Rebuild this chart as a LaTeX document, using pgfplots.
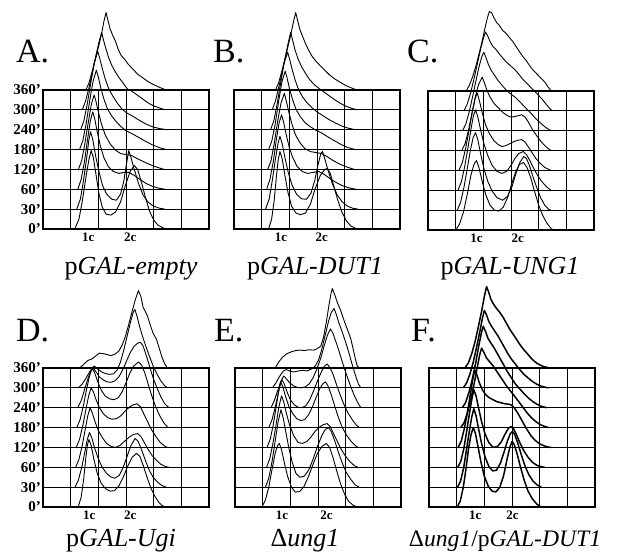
\documentclass[border=0pt]{standalone}
\usepackage{pgfplots}
\pgfplotsset{compat=1.18}
\usepackage{fontspec}
\setmainfont{Liberation Serif}
\pgfplotsset{
  flow/.style={width=166pt,height=139pt,scale only axis,xmin=0,xmax=6,ymin=0,ymax=7,
    xtick={0,...,6},ytick={0,...,7},xticklabels={},yticklabels={},
    grid=major,major grid style={black,line width=0.9pt},
    axis line style={black,line width=1.4pt},major tick length=0pt,
    clip=false,anchor=north west,
    cycle list={{black,solid}},
    extra x tick style={grid=none,major tick length=0pt,
      tick label style={font=\fontsize{13}{13}\selectfont\bfseries}},
    every axis plot post/.append style={black,solid,line width=0.9pt,mark=none,line join=round}},
  ylab/.style={yticklabels={\textbf{0'},\textbf{30'},\textbf{60'},\textbf{120'},\textbf{180'},\textbf{240'},\textbf{300'},\textbf{360'}},
    yticklabel style={font=\fontsize{15}{15}\selectfont\bfseries,xshift=1.5pt}}
}
\begin{document}
\begin{tikzpicture}
\path[use as bounding box] (0pt,0pt) rectangle (617pt,-553pt);
% ---------------- A
\begin{axis}[flow,ylab,at={(43pt,-90pt)},extra x ticks={1.64,3.15},extra x tick labels={1c,2c}]
\addplot coordinates {(1.15,0)(1.30,0.5)(1.42,1.4)(1.55,2.6)(1.66,3.5)(1.74,3.95)(1.82,3.6)(1.92,2.7)(2.02,1.8)(2.14,1.1)(2.28,0.75)(2.45,0.7)(2.62,0.85)(2.80,1.35)(2.98,2.2)(3.15,2.9)(3.30,3.2)(3.42,3.0)(3.55,2.4)(3.70,1.6)(3.85,0.9)(4.00,0.45)(4.15,0.2)(4.35,0.05)(4.50,0)};
\addplot coordinates {(1.22,1.0)(1.35,1.5)(1.47,2.5)(1.58,3.6)(1.66,4.5)(1.72,4.9)(1.80,4.5)(1.90,3.7)(2.02,2.9)(2.15,2.2)(2.30,1.75)(2.48,1.5)(2.65,1.45)(2.80,1.75)(2.92,2.4)(3.02,3.3)(3.10,3.95)(3.18,3.6)(3.30,3.0)(3.45,2.3)(3.62,1.7)(3.80,1.35)(4.00,1.15)(4.20,1.05)(4.40,1.0)};
\addplot coordinates {(1.26,2.0)(1.38,2.5)(1.50,3.4)(1.61,4.5)(1.71,5.45)(1.80,5.9)(1.87,5.55)(1.96,4.9)(2.07,4.2)(2.20,3.6)(2.36,3.15)(2.54,2.9)(2.74,2.8)(2.92,2.85)(3.10,2.85)(3.30,2.7)(3.50,2.5)(3.72,2.3)(3.95,2.15)(4.20,2.05)(4.42,2.0)};
\addplot coordinates {(1.28,3.0)(1.40,3.45)(1.52,4.35)(1.64,5.4)(1.75,6.3)(1.85,6.75)(1.92,6.4)(2.01,5.85)(2.12,5.25)(2.26,4.7)(2.42,4.3)(2.60,4.0)(2.80,3.8)(3.00,3.75)(3.20,3.7)(3.40,3.55)(3.62,3.4)(3.85,3.25)(4.10,3.12)(4.38,3.0)};
\addplot coordinates {(1.32,4.0)(1.44,4.45)(1.56,5.3)(1.68,6.4)(1.81,7.45)(1.93,8.0)(2.00,7.65)(2.09,7.1)(2.20,6.55)(2.33,6.05)(2.48,5.7)(2.65,5.4)(2.82,5.15)(3.00,4.95)(3.22,4.8)(3.45,4.62)(3.70,4.42)(3.95,4.24)(4.20,4.1)(4.45,4.0)};
\addplot coordinates {(1.36,5.0)(1.48,5.45)(1.60,6.3)(1.72,7.3)(1.85,8.35)(1.98,8.95)(2.05,8.6)(2.14,8.1)(2.25,7.55)(2.38,7.05)(2.52,6.7)(2.68,6.35)(2.85,6.05)(3.02,5.85)(3.22,5.7)(3.45,5.5)(3.70,5.3)(3.95,5.15)(4.20,5.06)(4.48,5.0)};
\addplot coordinates {(1.42,6.0)(1.54,6.45)(1.66,7.1)(1.78,7.85)(1.90,8.65)(2.02,9.4)(2.12,9.9)(2.19,9.5)(2.28,9.05)(2.38,8.6)(2.50,8.2)(2.62,7.9)(2.76,7.6)(2.92,7.3)(3.05,7.05)(3.20,6.95)(3.40,6.75)(3.60,6.55)(3.80,6.35)(4.00,6.2)(4.20,6.1)(4.42,6.0)};
\addplot coordinates {(1.55,7.0)(1.66,7.35)(1.78,7.95)(1.90,8.6)(2.02,9.25)(2.12,9.85)(2.20,10.45)(2.28,10.9)(2.34,10.55)(2.42,10.1)(2.52,9.75)(2.62,9.45)(2.72,9.05)(2.82,8.75)(2.95,8.55)(3.08,8.3)(3.25,8.05)(3.42,7.8)(3.60,7.62)(3.80,7.42)(4.00,7.27)(4.20,7.14)(4.45,7.0)};
\end{axis}
% ---------------- B
\begin{axis}[flow,at={(234pt,-90pt)},extra x ticks={1.70,3.17},extra x tick labels={1c,2c}]
\addplot coordinates {(1.25,0)(1.36,0.5)(1.45,1.4)(1.53,2.6)(1.60,3.5)(1.66,3.9)(1.74,3.55)(1.84,2.7)(1.95,1.85)(2.08,1.15)(2.24,0.8)(2.40,0.72)(2.58,0.8)(2.76,1.25)(2.94,2.05)(3.12,2.7)(3.28,3.0)(3.38,3.05)(3.48,2.8)(3.60,2.2)(3.74,1.5)(3.90,0.85)(4.06,0.42)(4.22,0.15)(4.44,0)};
\addplot coordinates {(1.14,1.0)(1.27,1.5)(1.39,2.5)(1.50,3.55)(1.59,4.3)(1.66,4.67)(1.74,4.3)(1.84,3.6)(1.96,2.85)(2.10,2.2)(2.26,1.75)(2.44,1.52)(2.62,1.5)(2.78,1.8)(2.92,2.45)(3.04,3.25)(3.14,3.8)(3.20,3.9)(3.28,3.55)(3.40,2.95)(3.55,2.3)(3.72,1.75)(3.90,1.38)(4.10,1.15)(4.30,1.04)(4.48,1.0)};
\addplot coordinates {(1.18,2.0)(1.30,2.5)(1.42,3.4)(1.53,4.5)(1.63,5.35)(1.72,5.75)(1.79,5.4)(1.88,4.8)(1.99,4.15)(2.12,3.6)(2.28,3.15)(2.46,2.9)(2.66,2.8)(2.86,2.85)(3.06,2.9)(3.26,2.75)(3.46,2.55)(3.68,2.35)(3.92,2.18)(4.18,2.06)(4.42,2.0)};
\addplot coordinates {(1.22,3.0)(1.34,3.45)(1.46,4.35)(1.58,5.45)(1.70,6.35)(1.82,6.83)(1.89,6.45)(1.98,5.9)(2.09,5.3)(2.22,4.75)(2.38,4.35)(2.56,4.05)(2.76,3.9)(2.96,3.85)(3.16,3.8)(3.36,3.65)(3.58,3.45)(3.82,3.27)(4.08,3.12)(4.35,3.0)};
\addplot coordinates {(1.25,4.0)(1.37,4.45)(1.49,5.3)(1.61,6.4)(1.73,7.4)(1.85,7.95)(1.92,7.6)(2.01,7.05)(2.12,6.5)(2.25,6.0)(2.40,5.65)(2.57,5.35)(2.76,5.15)(2.95,4.98)(3.15,4.85)(3.38,4.65)(3.62,4.45)(3.88,4.25)(4.12,4.1)(4.38,4.0)};
\addplot coordinates {(1.32,5.0)(1.44,5.45)(1.56,6.3)(1.68,7.3)(1.81,8.35)(1.94,8.9)(2.01,8.55)(2.10,8.05)(2.21,7.5)(2.34,7.0)(2.48,6.65)(2.64,6.35)(2.82,6.1)(3.00,5.9)(3.20,5.72)(3.42,5.52)(3.65,5.35)(3.90,5.18)(4.15,5.07)(4.40,5.0)};
\addplot coordinates {(1.38,6.0)(1.50,6.45)(1.62,7.15)(1.74,7.9)(1.86,8.7)(1.97,9.45)(2.05,9.9)(2.12,9.5)(2.21,9.0)(2.32,8.55)(2.45,8.15)(2.58,7.85)(2.72,7.55)(2.88,7.3)(3.05,7.1)(3.25,6.9)(3.45,6.7)(3.65,6.5)(3.85,6.32)(4.05,6.18)(4.25,6.08)(4.45,6.0)};
\addplot coordinates {(1.50,7.0)(1.61,7.35)(1.73,7.95)(1.85,8.6)(1.97,9.3)(2.07,9.9)(2.16,10.5)(2.23,10.9)(2.30,10.5)(2.38,10.05)(2.48,9.7)(2.58,9.35)(2.70,9.0)(2.82,8.7)(2.96,8.45)(3.10,8.25)(3.28,8.0)(3.46,7.75)(3.65,7.55)(3.85,7.38)(4.05,7.22)(4.25,7.1)(4.44,7.0)};
\end{axis}
% ---------------- C
\begin{axis}[flow,at={(428pt,-91pt)},extra x ticks={1.75,3.24},extra x tick labels={1c,2c}]
\addplot coordinates {(1.00,0.0)(1.14,0.3)(1.28,0.9)(1.42,1.8)(1.55,2.75)(1.66,3.3)(1.75,3.5)(1.84,3.15)(1.95,2.5)(2.08,1.8)(2.24,1.25)(2.40,1.0)(2.56,0.95)(2.72,1.15)(2.88,1.65)(3.02,2.3)(3.16,2.9)(3.30,3.3)(3.45,3.4)(3.58,3.15)(3.72,2.6)(3.86,1.9)(4.00,1.25)(4.14,0.75)(4.28,0.38)(4.42,0.12)(4.52,0.0)};
\addplot coordinates {(1.06,1.0)(1.18,1.4)(1.30,2.15)(1.42,3.1)(1.53,4.0)(1.63,4.65)(1.72,4.9)(1.80,4.55)(1.90,3.85)(2.02,3.1)(2.16,2.45)(2.32,1.95)(2.50,1.62)(2.70,1.5)(2.88,1.7)(3.04,2.2)(3.18,2.85)(3.32,3.4)(3.46,3.7)(3.56,3.6)(3.68,3.2)(3.80,2.65)(3.94,2.1)(4.08,1.6)(4.22,1.25)(4.36,1.04)(4.44,1.0)};
\addplot coordinates {(1.08,2.0)(1.20,2.4)(1.32,3.15)(1.44,4.1)(1.55,5.05)(1.64,5.75)(1.72,6.05)(1.80,5.7)(1.90,5.05)(2.02,4.35)(2.16,3.75)(2.32,3.25)(2.50,2.95)(2.67,2.85)(2.84,2.95)(3.00,3.25)(3.14,3.6)(3.28,3.85)(3.44,3.95)(3.56,3.8)(3.70,3.45)(3.84,3.05)(3.98,2.7)(4.14,2.4)(4.30,2.15)(4.45,2.0)};
\addplot coordinates {(1.12,3.0)(1.24,3.4)(1.36,4.1)(1.48,5.0)(1.60,5.95)(1.70,6.6)(1.78,6.9)(1.86,6.5)(1.96,5.9)(2.08,5.3)(2.22,4.85)(2.38,4.5)(2.54,4.3)(2.68,4.2)(2.82,4.25)(2.96,4.35)(3.10,4.45)(3.24,4.52)(3.38,4.55)(3.50,4.45)(3.62,4.2)(3.76,3.9)(3.90,3.6)(4.06,3.35)(4.22,3.15)(4.36,3.05)(4.46,3.0)};
\addplot coordinates {(1.22,4.0)(1.34,4.35)(1.46,5.0)(1.58,5.8)(1.70,6.65)(1.82,7.3)(1.96,7.7)(2.04,7.4)(2.14,7.0)(2.26,6.65)(2.40,6.35)(2.54,6.15)(2.68,5.95)(2.82,5.8)(2.96,5.7)(3.10,5.7)(3.24,5.75)(3.38,5.8)(3.50,5.7)(3.62,5.45)(3.76,5.1)(3.90,4.8)(4.06,4.5)(4.22,4.25)(4.36,4.08)(4.46,4.0)};
\addplot coordinates {(1.25,5.0)(1.37,5.35)(1.49,5.95)(1.61,6.7)(1.73,7.5)(1.85,8.25)(1.95,8.75)(2.02,8.95)(2.09,8.7)(2.18,8.35)(2.28,8.05)(2.40,7.8)(2.52,7.55)(2.64,7.35)(2.76,7.15)(2.90,6.95)(3.04,6.8)(3.18,6.65)(3.32,6.45)(3.46,6.25)(3.60,6.05)(3.74,5.85)(3.90,5.6)(4.06,5.4)(4.22,5.2)(4.38,5.05)(4.48,5.0)};
\addplot coordinates {(1.30,6.0)(1.42,6.35)(1.54,6.9)(1.66,7.6)(1.78,8.35)(1.90,9.1)(2.00,9.65)(2.08,9.97)(2.15,9.8)(2.24,9.5)(2.34,9.25)(2.45,9.1)(2.56,8.9)(2.68,8.7)(2.80,8.5)(2.92,8.35)(3.04,8.2)(3.16,8.05)(3.28,7.85)(3.42,7.6)(3.56,7.4)(3.70,7.2)(3.84,7.0)(3.98,6.8)(4.12,6.6)(4.26,6.35)(4.38,6.15)(4.50,6.0)};
\addplot coordinates {(1.38,7.0)(1.50,7.3)(1.62,7.75)(1.74,8.3)(1.86,8.95)(1.98,9.65)(2.08,10.3)(2.16,10.75)(2.22,11.0)(2.30,10.95)(2.38,10.7)(2.48,10.45)(2.58,10.3)(2.70,10.05)(2.82,9.9)(2.94,9.7)(3.06,9.5)(3.18,9.25)(3.30,9.0)(3.42,8.75)(3.54,8.55)(3.66,8.3)(3.80,8.05)(3.94,7.85)(4.08,7.65)(4.22,7.45)(4.34,7.2)(4.46,7.0)};
\end{axis}
% ---------------- D
\begin{axis}[flow,ylab,at={(43pt,-368pt)},extra x ticks={1.67,3.15},extra x tick labels={1c,2c}]
\addplot coordinates {(1.27,0.0)(1.38,0.5)(1.47,1.4)(1.55,2.5)(1.61,3.15)(1.66,3.4)(1.74,3.1)(1.84,2.4)(1.96,1.7)(2.10,1.2)(2.26,0.92)(2.42,0.8)(2.58,0.82)(2.74,1.05)(2.90,1.5)(3.06,2.05)(3.22,2.5)(3.38,2.7)(3.50,2.55)(3.62,2.1)(3.76,1.5)(3.90,0.95)(4.04,0.55)(4.18,0.25)(4.30,0.08)(4.42,0.0)};
\addplot coordinates {(1.16,1.0)(1.28,1.35)(1.40,2.0)(1.51,2.75)(1.60,3.4)(1.68,3.75)(1.76,3.5)(1.86,3.0)(1.98,2.5)(2.12,2.05)(2.28,1.72)(2.44,1.52)(2.60,1.45)(2.76,1.6)(2.90,2.0)(3.04,2.55)(3.18,3.1)(3.33,3.45)(3.44,3.3)(3.56,2.9)(3.70,2.35)(3.84,1.85)(3.98,1.5)(4.14,1.25)(4.30,1.08)(4.45,1.0)};
\addplot coordinates {(1.18,2.0)(1.30,2.4)(1.42,3.1)(1.53,3.95)(1.62,4.6)(1.70,5.0)(1.78,4.75)(1.88,4.3)(2.00,3.85)(2.14,3.5)(2.30,3.2)(2.46,3.05)(2.62,3.0)(2.78,3.1)(2.94,3.3)(3.10,3.5)(3.26,3.65)(3.42,3.7)(3.54,3.55)(3.66,3.25)(3.80,2.9)(3.94,2.6)(4.10,2.35)(4.26,2.15)(4.42,2.04)(4.55,2.0)};
\addplot coordinates {(1.20,3.0)(1.32,3.4)(1.44,4.1)(1.55,4.9)(1.65,5.6)(1.74,6.0)(1.82,5.8)(1.92,5.4)(2.04,5.0)(2.18,4.7)(2.34,4.5)(2.50,4.42)(2.66,4.45)(2.82,4.6)(2.98,4.85)(3.14,5.05)(3.28,5.15)(3.40,5.2)(3.52,5.05)(3.64,4.7)(3.78,4.3)(3.92,3.9)(4.08,3.55)(4.24,3.25)(4.38,3.08)(4.50,3.0)};
\addplot coordinates {(1.22,4.0)(1.34,4.4)(1.46,5.1)(1.57,5.9)(1.68,6.6)(1.78,7.0)(1.87,6.75)(1.98,6.3)(2.10,5.9)(2.24,5.6)(2.40,5.45)(2.56,5.4)(2.72,5.5)(2.86,5.8)(3.00,6.25)(3.14,6.75)(3.28,7.1)(3.45,7.3)(3.56,7.15)(3.68,6.75)(3.80,6.2)(3.92,5.65)(4.06,5.1)(4.20,4.65)(4.36,4.25)(4.52,4.0)};
\addplot coordinates {(1.25,5.0)(1.38,5.35)(1.50,5.9)(1.62,6.45)(1.73,6.85)(1.82,7.0)(1.92,6.8)(2.04,6.55)(2.18,6.4)(2.32,6.3)(2.46,6.28)(2.60,6.35)(2.74,6.55)(2.88,6.9)(3.02,7.35)(3.16,7.8)(3.30,8.1)(3.42,8.25)(3.52,8.3)(3.62,8.1)(3.74,7.6)(3.86,7.05)(3.98,6.5)(4.12,6.0)(4.26,5.55)(4.40,5.2)(4.55,5.0)};
\addplot coordinates {(1.28,6.0)(1.42,6.2)(1.56,6.5)(1.70,6.85)(1.85,7.1)(1.98,6.95)(2.12,6.8)(2.26,6.72)(2.40,6.68)(2.54,6.7)(2.68,6.9)(2.80,7.3)(2.92,7.9)(3.04,8.6)(3.16,9.3)(3.26,9.8)(3.32,9.95)(3.40,9.6)(3.50,9.05)(3.62,8.5)(3.74,8.0)(3.86,7.55)(3.98,7.1)(4.12,6.7)(4.26,6.35)(4.40,6.1)(4.52,6.0)};
\addplot coordinates {(1.33,7.0)(1.48,7.2)(1.62,7.38)(1.76,7.45)(1.90,7.6)(2.04,7.75)(2.18,7.72)(2.32,7.68)(2.46,7.62)(2.60,7.7)(2.74,7.85)(2.86,8.15)(2.98,8.6)(3.10,9.2)(3.22,9.85)(3.34,10.45)(3.45,10.9)(3.54,10.6)(3.62,10.05)(3.70,9.85)(3.78,9.6)(3.88,9.15)(3.98,8.75)(4.10,8.45)(4.20,8.0)(4.30,7.55)(4.40,7.2)(4.50,7.0)};
\end{axis}
% ---------------- E
\begin{axis}[flow,at={(235pt,-368pt)},extra x ticks={1.70,3.31},extra x tick labels={1c,2c}]
\addplot coordinates {(0.97,0.0)(1.10,0.35)(1.22,1.0)(1.34,1.9)(1.45,2.7)(1.54,3.1)(1.60,3.2)(1.68,2.9)(1.78,2.25)(1.90,1.55)(2.04,1.0)(2.18,0.75)(2.34,0.78)(2.50,1.05)(2.66,1.55)(2.82,2.15)(2.98,2.7)(3.14,3.05)(3.30,3.2)(3.42,3.0)(3.54,2.5)(3.68,1.8)(3.82,1.15)(3.96,0.65)(4.10,0.3)(4.26,0.1)(4.42,0.0)};
\addplot coordinates {(1.10,1.0)(1.22,1.45)(1.34,2.3)(1.45,3.3)(1.56,4.3)(1.66,4.9)(1.74,4.5)(1.84,3.75)(1.95,2.95)(2.07,2.25)(2.20,1.7)(2.34,1.5)(2.50,1.55)(2.66,1.85)(2.82,2.4)(2.98,3.05)(3.14,3.6)(3.26,3.9)(3.38,4.0)(3.48,3.8)(3.60,3.35)(3.74,2.75)(3.88,2.2)(4.02,1.75)(4.18,1.4)(4.34,1.12)(4.48,1.0)};
\addplot coordinates {(1.14,2.0)(1.26,2.45)(1.37,3.2)(1.48,4.1)(1.58,5.0)(1.68,5.6)(1.76,5.3)(1.86,4.7)(1.98,4.1)(2.12,3.6)(2.28,3.25)(2.44,3.2)(2.60,3.3)(2.76,3.55)(2.92,3.85)(3.08,4.05)(3.20,4.15)(3.33,4.2)(3.44,4.05)(3.56,3.7)(3.70,3.3)(3.84,2.9)(4.00,2.55)(4.16,2.27)(4.32,2.08)(4.45,2.0)};
\addplot coordinates {(1.16,3.0)(1.28,3.45)(1.39,4.2)(1.49,5.05)(1.57,5.8)(1.65,6.3)(1.73,6.05)(1.83,5.55)(1.95,5.05)(2.09,4.7)(2.23,4.45)(2.38,4.35)(2.52,4.4)(2.66,4.65)(2.80,5.05)(2.94,5.55)(3.06,5.95)(3.17,6.2)(3.27,6.3)(3.36,6.1)(3.48,5.65)(3.60,5.1)(3.74,4.5)(3.88,4.0)(4.04,3.6)(4.20,3.3)(4.34,3.1)(4.45,3.0)};
\addplot coordinates {(1.22,4.0)(1.34,4.4)(1.46,5.05)(1.56,5.7)(1.64,6.2)(1.70,6.4)(1.78,6.2)(1.88,5.8)(2.00,5.4)(2.14,5.15)(2.28,5.02)(2.42,5.0)(2.56,5.1)(2.70,5.4)(2.84,5.85)(2.98,6.35)(3.12,6.8)(3.24,7.1)(3.33,7.2)(3.42,7.05)(3.54,6.7)(3.66,6.2)(3.80,5.65)(3.94,5.15)(4.10,4.7)(4.26,4.35)(4.40,4.1)(4.50,4.0)};
\addplot coordinates {(1.30,5.0)(1.42,5.35)(1.54,5.85)(1.65,6.3)(1.76,6.6)(1.86,6.45)(1.98,6.25)(2.12,6.1)(2.26,6.02)(2.40,6.0)(2.54,6.05)(2.68,6.2)(2.82,6.5)(2.96,6.95)(3.10,7.5)(3.22,8.1)(3.34,8.65)(3.45,8.97)(3.54,8.75)(3.64,8.35)(3.76,7.85)(3.88,7.3)(4.02,6.7)(4.16,6.15)(4.30,5.65)(4.44,5.25)(4.55,5.0)};
\addplot coordinates {(1.35,6.0)(1.48,6.25)(1.62,6.6)(1.75,6.85)(1.85,6.92)(1.98,6.85)(2.12,6.8)(2.28,6.85)(2.44,6.88)(2.60,6.85)(2.76,6.95)(2.90,7.1)(3.02,7.4)(3.14,7.95)(3.26,8.65)(3.38,9.35)(3.48,9.8)(3.58,10.0)(3.66,9.7)(3.76,9.25)(3.88,8.8)(4.00,8.3)(4.12,7.75)(4.24,7.15)(4.36,6.6)(4.46,6.2)(4.55,6.0)};
\addplot coordinates {(1.45,7.0)(1.58,7.3)(1.72,7.55)(1.88,7.72)(2.04,7.82)(2.20,7.88)(2.36,7.9)(2.52,7.88)(2.68,7.92)(2.85,7.9)(2.98,7.98)(3.10,8.1)(3.20,8.55)(3.30,9.3)(3.40,10.2)(3.47,10.75)(3.52,11.0)(3.60,10.7)(3.70,10.3)(3.82,9.9)(3.94,9.4)(4.06,8.95)(4.18,8.5)(4.28,7.9)(4.36,7.4)(4.42,7.1)(4.50,7.0)};
\end{axis}
% ---------------- F
\begin{axis}[flow,at={(429pt,-368pt)},extra x ticks={1.67,3.02},extra x tick labels={1c,2c},every axis plot post/.append style={line width=1.5pt}]
\addplot coordinates {(1.02,0.0)(1.13,0.3)(1.24,1.0)(1.34,1.95)(1.43,2.95)(1.52,3.65)(1.60,4.0)(1.68,3.7)(1.77,3.05)(1.88,2.25)(2.00,1.55)(2.14,1.05)(2.28,0.8)(2.42,0.76)(2.56,1.0)(2.70,1.6)(2.82,2.4)(2.92,3.0)(3.00,3.3)(3.08,3.15)(3.18,2.7)(3.30,2.05)(3.44,1.35)(3.58,0.8)(3.74,0.4)(3.90,0.14)(4.05,0.0)};
\addplot coordinates {(1.03,1.0)(1.14,1.3)(1.25,1.95)(1.35,2.85)(1.45,3.75)(1.54,4.5)(1.62,4.95)(1.70,4.6)(1.79,3.95)(1.90,3.2)(2.02,2.55)(2.16,2.05)(2.30,1.82)(2.44,1.85)(2.58,2.2)(2.72,2.8)(2.84,3.35)(2.94,3.7)(3.02,3.8)(3.10,3.65)(3.20,3.25)(3.32,2.7)(3.46,2.1)(3.60,1.65)(3.76,1.3)(3.92,1.1)(4.06,1.0)};
\addplot coordinates {(1.04,2.0)(1.15,2.3)(1.26,2.95)(1.36,3.8)(1.46,4.7)(1.55,5.45)(1.62,5.9)(1.70,5.6)(1.79,5.0)(1.90,4.3)(2.02,3.7)(2.16,3.25)(2.32,3.0)(2.48,3.05)(2.62,3.3)(2.76,3.7)(2.88,3.98)(2.96,4.05)(3.05,3.95)(3.16,3.65)(3.28,3.25)(3.42,2.85)(3.58,2.5)(3.74,2.25)(3.90,2.1)(4.05,2.03)(4.18,2.0)};
\addplot coordinates {(1.05,3.0)(1.16,3.3)(1.27,3.9)(1.38,4.7)(1.48,5.55)(1.57,6.35)(1.65,6.9)(1.73,6.65)(1.82,6.25)(1.93,5.9)(2.05,5.65)(2.18,5.5)(2.32,5.4)(2.46,5.3)(2.60,5.25)(2.74,5.2)(2.86,5.18)(2.96,5.15)(3.08,5.0)(3.22,4.7)(3.36,4.35)(3.52,3.95)(3.68,3.6)(3.84,3.35)(4.00,3.18)(4.16,3.08)(4.30,3.02)(4.42,3.0)};
\addplot coordinates {(1.15,4.0)(1.27,4.25)(1.39,4.75)(1.51,5.4)(1.63,6.2)(1.74,7.0)(1.83,7.65)(1.90,8.0)(1.98,7.8)(2.08,7.5)(2.20,7.3)(2.32,7.1)(2.44,6.85)(2.56,6.6)(2.68,6.35)(2.80,6.1)(2.94,5.85)(3.08,5.6)(3.22,5.35)(3.38,5.05)(3.54,4.75)(3.70,4.5)(3.86,4.3)(4.02,4.15)(4.18,4.06)(4.32,4.0)};
\addplot coordinates {(1.20,5.0)(1.32,5.25)(1.44,5.75)(1.56,6.4)(1.68,7.2)(1.79,8.05)(1.89,8.75)(1.96,9.1)(2.04,8.85)(2.13,8.5)(2.24,8.25)(2.36,8.0)(2.48,7.7)(2.60,7.4)(2.72,7.1)(2.84,6.8)(2.98,6.5)(3.12,6.2)(3.28,5.95)(3.44,5.7)(3.60,5.48)(3.76,5.3)(3.92,5.16)(4.08,5.06)(4.25,5.0)};
\addplot coordinates {(1.24,6.0)(1.36,6.25)(1.48,6.7)(1.60,7.3)(1.72,8.05)(1.84,8.85)(1.93,9.5)(2.00,9.9)(2.07,9.7)(2.16,9.35)(2.26,9.1)(2.38,8.85)(2.50,8.6)(2.62,8.3)(2.74,8.0)(2.86,7.7)(2.98,7.45)(3.12,7.2)(3.26,6.95)(3.42,6.7)(3.58,6.5)(3.74,6.32)(3.90,6.18)(4.06,6.08)(4.20,6.03)(4.32,6.0)};
\addplot coordinates {(1.30,7.0)(1.42,7.25)(1.54,7.7)(1.66,8.3)(1.78,9.05)(1.90,9.85)(2.00,10.6)(2.08,11.1)(2.15,10.85)(2.24,10.45)(2.34,10.2)(2.44,10.0)(2.56,9.8)(2.68,9.55)(2.80,9.25)(2.92,8.95)(3.04,8.7)(3.16,8.45)(3.30,8.15)(3.44,7.9)(3.58,7.68)(3.72,7.45)(3.86,7.28)(4.00,7.16)(4.15,7.07)(4.30,7.02)(4.42,7.0)};
\end{axis}
% ---------------- labels
\begin{scope}[every node/.style={inner sep=0pt,font=\fontsize{34}{34}\selectfont,anchor=base west}]
\node at (16pt,-63pt) {A.};
\node at (213pt,-63pt) {B.};
\node at (407pt,-63pt) {C.};
\node at (16pt,-341pt) {D.};
\node at (214pt,-341pt) {E.};
\node at (411pt,-341pt) {F.};
\end{scope}
\begin{scope}[every node/.style={inner sep=0pt,font=\fontsize{26}{26}\selectfont,anchor=base}]
\node at (131pt,-274pt) {p\textit{GAL-empty}};
\node at (315pt,-274pt) {p\textit{GAL-DUT1}};
\node at (510pt,-274pt) {p\textit{GAL-UNG1}};
\node at (121pt,-546pt) {p\textit{GAL-Ugi}};
\node at (305pt,-546pt) {Δ\textit{ung1}};
\node[font=\fontsize{23.6}{23.6}\selectfont] at (505pt,-546pt) {Δ\textit{ung1}/p\textit{GAL-DUT1}};
\end{scope}
\end{tikzpicture}
\end{document}
